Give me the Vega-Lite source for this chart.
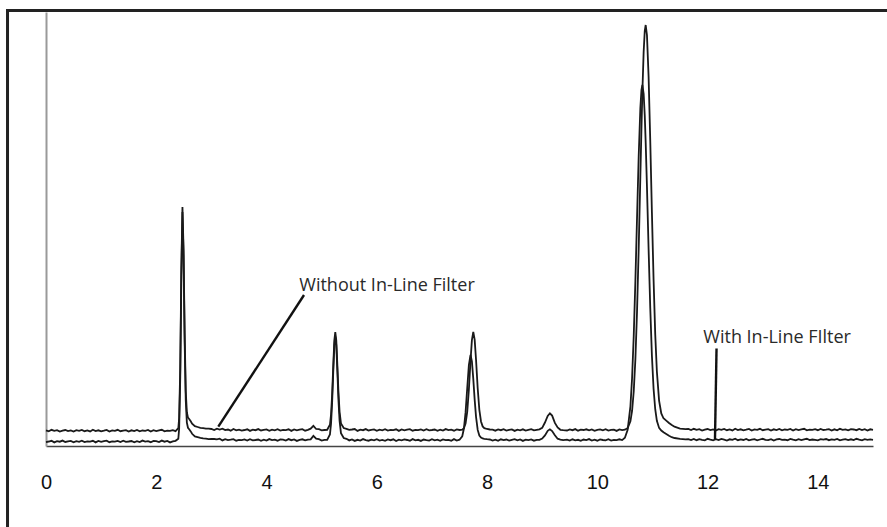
{
  "$schema": "https://vega.github.io/schema/vega-lite/v6.json",
  "width": 827,
  "height": 434,
  "autosize": "none",
  "padding": {"left": 46, "top": 12, "right": 14, "bottom": 81},
  "background": "white",
  "datasets": {
    "traces": [
      {"t":0,"w":15.7,"f":3.9},{"t":0.05,"w":14.7,"f":4.5},{"t":0.1,"w":16.2,"f":5.2},{"t":0.15,"w":15.1,"f":3.6},
      {"t":0.2,"w":15.8,"f":4.8},{"t":0.25,"w":14.4,"f":4.3},{"t":0.3,"w":15.4,"f":5.4},{"t":0.35,"w":16.0,"f":4.0},
      {"t":0.4,"w":14.9,"f":4.6},{"t":0.45,"w":15.6,"f":5.1},{"t":0.5,"w":14.5,"f":3.7},{"t":0.55,"w":15.9,"f":4.9},
      {"t":0.6,"w":15.2,"f":4.2},{"t":0.65,"w":16.1,"f":5.3},{"t":0.7,"w":14.8,"f":3.9},{"t":0.75,"w":15.5,"f":4.7},
      {"t":0.8,"w":14.6,"f":4.4},{"t":0.85,"w":16.3,"f":5.2},{"t":0.9,"w":15.0,"f":3.6},{"t":0.95,"w":15.7,"f":5.0},
      {"t":1.0,"w":14.7,"f":4.1},{"t":1.05,"w":15.3,"f":4.8},{"t":1.1,"w":16.0,"f":5.4},{"t":1.15,"w":14.4,"f":3.8},
      {"t":1.2,"w":15.6,"f":4.6},{"t":1.25,"w":15.1,"f":4.3},{"t":1.3,"w":16.2,"f":5.1},{"t":1.35,"w":14.8,"f":4.0},
      {"t":1.4,"w":15.4,"f":5.3},{"t":1.45,"w":15.9,"f":4.2},{"t":1.5,"w":14.5,"f":4.5},{"t":1.55,"w":15.7,"f":5.0},
      {"t":1.6,"w":15.0,"f":3.7},{"t":1.65,"w":16.1,"f":4.9},{"t":1.7,"w":14.7,"f":3.9},{"t":1.75,"w":15.5,"f":5.4},
      {"t":1.8,"w":15.2,"f":4.4},{"t":1.85,"w":16.0,"f":4.8},{"t":1.9,"w":14.4,"f":3.8},{"t":1.95,"w":15.8,"f":5.1},
      {"t":2.0,"w":14.9,"f":4.9},{"t":2.05,"w":15.6,"f":3.9},{"t":2.1,"w":16.2,"f":5.4},{"t":2.15,"w":14.6,"f":4.3},
      {"t":2.2,"w":15.4,"f":5.0},{"t":2.25,"w":15.1,"f":3.6},{"t":2.3,"w":15.9,"f":4.6},{"t":2.35,"w":14.8,"f":5.2},
      {"t":2.4,"w":17.8,"f":7.2},{"t":2.415,"w":28,"f":17.4},{"t":2.435,"w":77.5,"f":68.4},{"t":2.455,"w":177.5,"f":171.1},
      {"t":2.475,"w":239,"f":234},{"t":2.495,"w":196.5,"f":190.1},{"t":2.515,"w":112.5,"f":103.6},{"t":2.535,"w":54.5,"f":45.6},
      {"t":2.555,"w":33.8,"f":23.4},{"t":2.575,"w":28.4,"f":18.2},{"t":2.6,"w":26.8,"f":16.5},{"t":2.625,"w":24.8,"f":14.6},
      {"t":2.65,"w":22.4,"f":12.2},{"t":2.7,"w":19.8,"f":9.6},{"t":2.75,"w":19.0,"f":8.9},{"t":2.8,"w":18.2,"f":8.2},
      {"t":2.85,"w":17.9,"f":7.6},{"t":2.9,"w":17.4,"f":7.4},{"t":2.95,"w":17.3,"f":6.9},{"t":3.0,"w":17.0,"f":7.0},
      {"t":3.05,"w":16.0,"f":7.0},{"t":3.1,"w":17.3,"f":6.6},{"t":3.15,"w":16.5,"f":7.3},{"t":3.2,"w":17.3,"f":5.6},
      {"t":3.25,"w":15.9,"f":6.9},{"t":3.3,"w":16.5,"f":5.9},{"t":3.35,"w":15.3,"f":6.3},{"t":3.4,"w":17.0,"f":6.9},
      {"t":3.45,"w":15.7,"f":5.3},{"t":3.5,"w":16.4,"f":6.1},{"t":3.55,"w":15.4,"f":5.8},{"t":3.6,"w":16.0,"f":6.6},
      {"t":3.65,"w":16.7,"f":5.5},{"t":3.7,"w":15.1,"f":6.8},{"t":3.75,"w":16.3,"f":5.7},{"t":3.8,"w":15.8,"f":6.0},
      {"t":3.85,"w":16.9,"f":6.5},{"t":3.9,"w":15.5,"f":5.2},{"t":3.95,"w":16.1,"f":6.4},{"t":4.0,"w":16.6,"f":5.4},
      {"t":4.05,"w":15.2,"f":6.9},{"t":4.1,"w":16.4,"f":5.9},{"t":4.15,"w":15.7,"f":6.3},{"t":4.2,"w":16.8,"f":5.3},
      {"t":4.25,"w":15.4,"f":6.6},{"t":4.3,"w":16.2,"f":6.4},{"t":4.35,"w":15.9,"f":5.4},{"t":4.4,"w":16.7,"f":6.9},
      {"t":4.45,"w":15.1,"f":5.8},{"t":4.5,"w":16.5,"f":6.5},{"t":4.55,"w":15.6,"f":5.1},{"t":4.6,"w":16.3,"f":6.1},
      {"t":4.65,"w":16.9,"f":6.7},{"t":4.7,"w":15.3,"f":5.6},{"t":4.75,"w":16.1,"f":6.3},{"t":4.8,"w":17.3,"f":6.7},
      {"t":4.85,"w":20.1,"f":10.1},{"t":4.9,"w":17.0,"f":7.4},{"t":4.95,"w":16.8,"f":6.8},{"t":5.0,"w":15.7,"f":5.5},
      {"t":5.05,"w":16.0,"f":6.2},
      {"t":5.1,"w":16.2,"f":6.1},{"t":5.15,"w":21.2,"f":11.5},{"t":5.17,"w":31.4,"f":22.3},{"t":5.19,"w":51.5,"f":43.7},
      {"t":5.21,"w":79.9,"f":73.8},{"t":5.23,"w":105.6,"f":101},{"t":5.247,"w":114,"f":110},{"t":5.265,"w":105.6,"f":101},
      {"t":5.285,"w":80.4,"f":74.3},{"t":5.305,"w":53.3,"f":45.4},{"t":5.325,"w":34.2,"f":25.1},{"t":5.35,"w":22.6,"f":12.8},
      {"t":5.4,"w":18.0,"f":8.0},{"t":5.45,"w":17.2,"f":7.2},
      {"t":5.5,"w":16.2,"f":5.6},{"t":5.55,"w":16.5,"f":6.6},{"t":5.6,"w":17.0,"f":5.1},{"t":5.65,"w":15.1,"f":6.2},
      {"t":5.7,"w":16.3,"f":5.5},{"t":5.75,"w":15.8,"f":6.9},{"t":5.8,"w":16.9,"f":5.9},{"t":5.85,"w":15.5,"f":5.3},
      {"t":5.9,"w":16.1,"f":6.4},{"t":5.95,"w":16.6,"f":5.7},{"t":6.0,"w":15.2,"f":6.8},{"t":6.05,"w":16.4,"f":5.4},
      {"t":6.1,"w":15.7,"f":6.1},{"t":6.15,"w":16.8,"f":5.2},{"t":6.2,"w":15.4,"f":6.5},{"t":6.25,"w":16.2,"f":5.8},
      {"t":6.3,"w":15.9,"f":6.7},{"t":6.35,"w":16.7,"f":5.0},{"t":6.4,"w":15.1,"f":6.3},{"t":6.45,"w":16.5,"f":5.6},
      {"t":6.5,"w":15.6,"f":6.6},{"t":6.55,"w":16.3,"f":6.0},{"t":6.6,"w":16.9,"f":5.3},{"t":6.65,"w":15.3,"f":6.9},
      {"t":6.7,"w":16.1,"f":5.7},{"t":6.75,"w":15.8,"f":6.2},{"t":6.8,"w":16.6,"f":5.1},{"t":6.85,"w":15.5,"f":6.5},
      {"t":6.9,"w":16.8,"f":5.9},{"t":6.95,"w":15.7,"f":5.4},{"t":7.0,"w":16.0,"f":6.8},{"t":7.05,"w":16.5,"f":5.6},
      {"t":7.1,"w":15.2,"f":6.3},{"t":7.15,"w":16.4,"f":5.2},{"t":7.2,"w":15.4,"f":6.6},{"t":7.25,"w":16.9,"f":5.8},
      {"t":7.3,"w":15.9,"f":6.1},{"t":7.35,"w":16.3,"f":5.3},{"t":7.4,"w":15.3,"f":6.9},{"t":7.45,"w":16.6,"f":5.5},
      {"t":7.5,"w":16.0,"f":6.3},{"t":7.55,"w":16.4,"f":9.7},{"t":7.58,"w":17.8,"f":17.5},{"t":7.61,"w":22.5,"f":33.6},
      {"t":7.64,"w":34.2,"f":57.6},{"t":7.67,"w":56.3,"f":81},{"t":7.7,"w":85.3,"f":91},{"t":7.725,"w":105.9,"f":84.5},
      {"t":7.75,"w":114,"f":67.1},{"t":7.775,"w":106.4,"f":46.4},{"t":7.8,"w":86.3,"f":29.2},{"t":7.83,"w":57.8,"f":16.1},
      {"t":7.86,"w":36.2,"f":10.4},{"t":7.89,"w":24.5,"f":8.4},{"t":7.92,"w":19.6,"f":7.5},{"t":7.95,"w":17.9,"f":7.2},
      {"t":8.0,"w":17.0,"f":6.8},{"t":8.05,"w":16.5,"f":6.5},
      {"t":8.1,"w":16.3,"f":5.5},{"t":8.15,"w":15.3,"f":6.4},{"t":8.2,"w":16.5,"f":5.2},{"t":8.25,"w":15.8,"f":6.7},
      {"t":8.3,"w":16.8,"f":5.9},{"t":8.35,"w":15.4,"f":6.5},{"t":8.4,"w":16.1,"f":5.4},{"t":8.45,"w":16.6,"f":6.2},
      {"t":8.5,"w":15.1,"f":6.8},{"t":8.55,"w":16.4,"f":5.6},{"t":8.6,"w":15.7,"f":6.6},{"t":8.65,"w":16.7,"f":5.1},
      {"t":8.7,"w":15.5,"f":6.3},{"t":8.75,"w":16.2,"f":5.8},{"t":8.8,"w":16.9,"f":6.5},{"t":8.85,"w":15.6,"f":5.3},
      {"t":8.9,"w":16.2,"f":6.2},{"t":8.95,"w":16.6,"f":6.1},{"t":9.0,"w":18.1,"f":7.5},{"t":9.05,"w":23.5,"f":10.6},
      {"t":9.1,"w":30.0,"f":15.2},{"t":9.14,"w":32.7,"f":16.7},{"t":9.18,"w":30.4,"f":15.0},{"t":9.23,"w":23.1,"f":10.8},
      {"t":9.28,"w":18.5,"f":7.3},{"t":9.33,"w":16.2,"f":6.4},{"t":9.38,"w":15.8,"f":5.8},
      {"t":9.45,"w":15.5,"f":6.4},{"t":9.5,"w":16.6,"f":5.4},{"t":9.55,"w":15.8,"f":6.7},{"t":9.6,"w":16.9,"f":5.7},
      {"t":9.65,"w":15.3,"f":6.2},{"t":9.7,"w":16.3,"f":5.2},{"t":9.75,"w":16.0,"f":6.5},{"t":9.8,"w":16.7,"f":5.9},
      {"t":9.85,"w":15.6,"f":6.9},{"t":9.9,"w":16.5,"f":5.5},{"t":9.95,"w":15.2,"f":6.3},{"t":10.0,"w":16.2,"f":5.3},
      {"t":10.05,"w":16.6,"f":6.6},{"t":10.1,"w":15.7,"f":6.0},{"t":10.15,"w":16.8,"f":5.6},{"t":10.2,"w":15.4,"f":6.8},
      {"t":10.25,"w":16.1,"f":5.4},{"t":10.3,"w":16.4,"f":6.2},{"t":10.35,"w":15.1,"f":5.8},{"t":10.4,"w":16.5,"f":6.7},
      {"t":10.45,"w":15.8,"f":5.9},
      {"t":10.5,"w":16.3,"f":8.3},{"t":10.55,"w":17.9,"f":16.1},{"t":10.6,"w":24.7,"f":39.7},{"t":10.63,"w":35,"f":67.8},
      {"t":10.66,"w":54.5,"f":109.7},{"t":10.69,"w":86.5,"f":164.7},{"t":10.72,"w":134.3,"f":227.9},{"t":10.75,"w":197,"f":289.6},
      {"t":10.78,"w":269,"f":337.6},{"t":10.8,"w":317,"f":356},{"t":10.817,"w":354,"f":361},{"t":10.84,"w":394,"f":352.2},
      {"t":10.86,"w":415,"f":330.6},{"t":10.877,"w":421,"f":303.4},{"t":10.9,"w":411,"f":259.5},{"t":10.93,"w":369,"f":196.6},
      {"t":10.96,"w":305,"f":138},{"t":10.99,"w":233.5,"f":90.2},{"t":11.02,"w":166.5,"f":57.3},{"t":11.05,"w":111.8,"f":36.8},
      {"t":11.08,"w":74.5,"f":25.2},{"t":11.12,"w":45.4,"f":18.1},{"t":11.16,"w":32.6,"f":15.5},{"t":11.2,"w":27.7,"f":13.7},
      {"t":11.25,"w":25.4,"f":12},{"t":11.3,"w":23,"f":10.2},{"t":11.35,"w":21,"f":8.8},{"t":11.4,"w":19.3,"f":8},
      {"t":11.5,"w":17.4,"f":7.1},{"t":11.6,"w":16.9,"f":6.6},
      {"t":11.65,"w":17.1,"f":6.8},{"t":11.7,"w":15.9,"f":6.0},{"t":11.75,"w":17.2,"f":7.1},{"t":11.8,"w":16.1,"f":5.8},
      {"t":11.85,"w":16.8,"f":6.9},{"t":11.9,"w":15.4,"f":6.2},{"t":11.95,"w":16.4,"f":5.6},{"t":12.0,"w":17.0,"f":7.2},
      {"t":12.05,"w":15.9,"f":6.4},{"t":12.1,"w":16.6,"f":5.7},{"t":12.15,"w":15.5,"f":6.8},{"t":12.2,"w":16.9,"f":5.9},
      {"t":12.25,"w":16.2,"f":7.0},{"t":12.3,"w":17.1,"f":6.3},{"t":12.35,"w":15.8,"f":5.5},{"t":12.4,"w":16.5,"f":6.7},
      {"t":12.45,"w":15.6,"f":6.1},{"t":12.5,"w":17.3,"f":7.3},{"t":12.55,"w":16.0,"f":5.8},{"t":12.6,"w":16.7,"f":6.6},
      {"t":12.65,"w":15.7,"f":6.0},{"t":12.7,"w":16.3,"f":7.1},{"t":12.75,"w":17.0,"f":5.6},{"t":12.8,"w":15.4,"f":6.4},
      {"t":12.85,"w":16.6,"f":6.9},{"t":12.9,"w":16.1,"f":5.7},{"t":12.95,"w":17.2,"f":6.5},{"t":13.0,"w":15.8,"f":7.2},
      {"t":13.05,"w":16.4,"f":6.2},{"t":13.1,"w":16.9,"f":5.9},{"t":13.15,"w":15.5,"f":6.8},{"t":13.2,"w":16.7,"f":5.5},
      {"t":13.25,"w":16.0,"f":6.6},{"t":13.3,"w":17.1,"f":7.0},{"t":13.35,"w":15.7,"f":6.1},{"t":13.4,"w":16.5,"f":6.4},
      {"t":13.45,"w":16.2,"f":5.8},{"t":13.5,"w":17.0,"f":7.1},{"t":13.55,"w":15.4,"f":6.3},{"t":13.6,"w":16.8,"f":5.6},
      {"t":13.65,"w":15.9,"f":6.9},{"t":13.7,"w":16.6,"f":6.0},{"t":13.75,"w":17.2,"f":6.7},{"t":13.8,"w":15.6,"f":7.2},
      {"t":13.85,"w":16.4,"f":5.9},{"t":13.9,"w":16.1,"f":6.5},{"t":13.95,"w":16.9,"f":6.2},{"t":14.0,"w":15.8,"f":5.7},
      {"t":14.05,"w":17.1,"f":6.8},{"t":14.1,"w":16.0,"f":6.4},{"t":14.15,"w":16.3,"f":7.0},{"t":14.2,"w":16.8,"f":5.8},
      {"t":14.25,"w":15.5,"f":6.6},{"t":14.3,"w":16.7,"f":6.1},{"t":14.35,"w":15.7,"f":7.1},{"t":14.4,"w":17.2,"f":5.6},
      {"t":14.45,"w":16.2,"f":6.3},{"t":14.5,"w":16.6,"f":6.9},{"t":14.55,"w":15.6,"f":6.0},{"t":14.6,"w":16.9,"f":6.7},
      {"t":14.65,"w":16.5,"f":5.9},{"t":14.7,"w":15.8,"f":7.2},{"t":14.75,"w":17.0,"f":6.4},{"t":14.8,"w":16.0,"f":5.7},
      {"t":14.85,"w":16.8,"f":6.8},{"t":14.9,"w":15.5,"f":6.2},{"t":14.95,"w":16.7,"f":6.6},{"t":15.0,"w":16.2,"f":6.1}
    ],
    "notes": [
      {"x": 4.594, "y": 155.3, "label": "Without In-Line Filter"},
      {"x": 11.922, "y": 103, "label": "With In-Line FIlter"}
    ],
    "leaders": [
      {"x": 4.68, "y": 151, "x2": 3.125, "y2": 19.3},
      {"x": 12.162, "y": 97.5, "x2": 12.134, "y2": 7}
    ]
  },
  "layer": [
    {
      "data": {"name": "traces"},
      "transform": [{"fold": ["w", "f"], "as": ["trace", "v"]}],
      "mark": {"type": "line", "color": "#1a1a1a", "strokeWidth": 1.8},
      "encoding": {
        "x": {
          "field": "t",
          "type": "quantitative",
          "scale": {"domain": [0, 15], "nice": false, "zero": false},
          "axis": {
            "title": null,
            "values": [0, 2, 4, 6, 8, 10, 12, 14],
            "ticks": false,
            "tickSize": 0,
            "grid": false,
            "labelFlush": false,
            "labelPadding": 26,
            "labelFont": "Liberation Sans",
            "labelFontSize": 20,
            "labelColor": "#111111",
            "domainColor": "#444444",
            "domainWidth": 1.5
          }
        },
        "y": {
          "field": "v",
          "type": "quantitative",
          "scale": {"domain": [0, 434], "nice": false, "zero": false},
          "axis": {
            "title": null,
            "labels": false,
            "ticks": false,
            "grid": false,
            "domainColor": "#9a9a9a",
            "domainWidth": 2
          }
        },
        "detail": {"field": "trace"}
      }
    },
    {
      "data": {"name": "leaders"},
      "mark": {"type": "rule", "color": "#111111", "strokeWidth": 2.4},
      "encoding": {
        "x": {"field": "x", "type": "quantitative"},
        "y": {"field": "y", "type": "quantitative"},
        "x2": {"field": "x2"},
        "y2": {"field": "y2"}
      }
    },
    {
      "data": {"name": "notes"},
      "mark": {
        "type": "text",
        "align": "left",
        "baseline": "alphabetic",
        "font": "Open Sans",
        "fontSize": 18,
        "color": "#2a2a2a"
      },
      "encoding": {
        "x": {"field": "x", "type": "quantitative"},
        "y": {"field": "y", "type": "quantitative"},
        "text": {"field": "label"}
      }
    },
    {
      "data": {"values": [{}]},
      "mark": {"type": "rule", "color": "#222222", "strokeWidth": 3},
      "encoding": {
        "x": {"datum": -0.698},
        "y": {"datum": 437},
        "y2": {"datum": -90}
      }
    },
    {
      "data": {"values": [{}]},
      "mark": {"type": "rule", "color": "#222222", "strokeWidth": 3},
      "encoding": {
        "x": {"datum": -0.725},
        "x2": {"datum": 16},
        "y": {"datum": 435.5}
      }
    }
  ],
  "config": {
    "view": {"stroke": null}
  }
}
